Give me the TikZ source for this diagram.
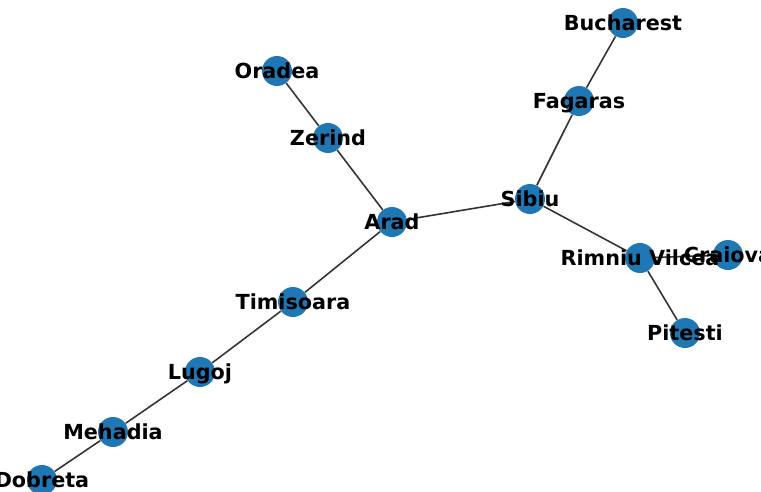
\documentclass[tikz,border=0pt]{standalone}
\usepackage{fontspec}
\setmainfont{DejaVu Sans}
\definecolor{cityblue}{HTML}{1F77B4}
\tikzset{
  city/.style={circle,fill=cityblue,minimum size=0.6cm,inner sep=0pt},
  road/.style={draw=black!80,line width=0.9pt},
  citylabel/.style={font=\fontsize{11.8}{13}\selectfont\bfseries,text height=8.6pt,text depth=0pt,inner sep=0pt}
}

\begin{document}
\begin{tikzpicture}[x=0.02cm,y=-0.02cm]
    \useasboundingbox (0,0) rectangle (761,491);

    % cities
    \node[city] (bucharest) at (623,23) {};
    \node[city] (fagaras) at (579,101) {};
    \node[city] (oradea) at (277,71) {};
    \node[city] (zerind) at (328,138) {};
    \node[city] (sibiu) at (530,199) {};
    \node[city] (arad) at (392,222) {};
    \node[city] (rimniu) at (640,258) {};
    \node[city] (craiova) at (728,255) {};
    \node[city] (timisoara) at (293,302) {};
    \node[city] (pitesti) at (685,333) {};
    \node[city] (lugoj) at (200,372) {};
    \node[city] (mehadia) at (113,432) {};
    \node[city] (dobreta) at (42,480) {};

    % roads
    \draw[road] (oradea) -- (zerind);
    \draw[road] (zerind) -- (arad);
    \draw[road] (arad) -- (sibiu);
    \draw[road] (arad) -- (timisoara);
    \draw[road] (timisoara) -- (lugoj);
    \draw[road] (lugoj) -- (mehadia);
    \draw[road] (mehadia) -- (dobreta);
    \draw[road] (sibiu) -- (fagaras);
    \draw[road] (fagaras) -- (bucharest);
    \draw[road] (sibiu) -- (rimniu);
    \draw[road] (rimniu) -- (craiova);
    \draw[road] (rimniu) -- (pitesti);

    % names on top
    \node[citylabel] (bucharest-t) at (bucharest) {Bucharest};
    \node[citylabel] (fagaras-t) at (fagaras) {Fagaras};
    \node[citylabel] (oradea-t) at (oradea) {Oradea};
    \node[citylabel] (zerind-t) at (zerind) {Zerind};
    \node[citylabel] (sibiu-t) at (sibiu) {Sibiu};
    \node[citylabel] (arad-t) at (arad) {Arad};
    \node[citylabel] (rimniu-t) at (rimniu) {Rimniu Vilcea};
    \node[citylabel] (craiova-t) at (craiova) {Craiova};
    \node[citylabel] (timisoara-t) at (timisoara) {Timisoara};
    \node[citylabel] (pitesti-t) at (pitesti) {Pitesti};
    \node[citylabel] (lugoj-t) at (lugoj) {Lugoj};
    \node[citylabel] (mehadia-t) at (mehadia) {Mehadia};
    \node[citylabel] (dobreta-t) at (dobreta) {Dobreta};
\end{tikzpicture}
\end{document}
